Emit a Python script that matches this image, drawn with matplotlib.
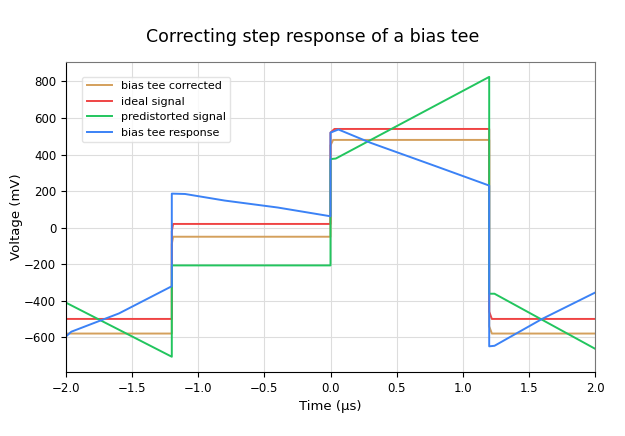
import numpy as np
import matplotlib.pyplot as plt

# breakpoints (time in us, voltage in mV)
corr_t = [-2.0, -1.2, -1.2, -1.19, 0.0, 0.0, 0.02, 1.2, 1.2, 1.22, 2.0]
corr_v = [-580, -580, -90, -50, -50, 450, 480, 480, -540, -580, -580]

ideal_t = [-2.0, -1.2, -1.2, -1.19, 0.0, 0.0, 0.03, 1.2, 1.2, 1.22, 2.0]
ideal_v = [-500, -500, -20, 20, 20, 520, 540, 540, -460, -500, -500]

pre_t = [-2.0, -1.2, -1.2, 0.0, 0.0, 0.04, 1.2, 1.2, 1.24, 2.0]
pre_v = [-411, -707, -207, -207, 375, 378, 825, -362, -362, -663]

resp_t = [-2.0, -1.96, -1.6, -1.2, -1.2, -1.1, -0.8, -0.4, 0.0, 0.0, 0.06,
          0.3, 0.8, 1.2, 1.2, 1.24, 1.6, 2.0]
resp_v = [-596, -570, -470, -321, 186, 184, 148, 110, 62, 520, 537,
          465, 335, 230, -650, -647, -500, -356]

fig = plt.figure(figsize=(6.25, 4.36), dpi=100)
ax = fig.add_axes([0.1056, 0.147, 0.8464, 0.711])

ax.plot(corr_t, corr_v, color='#d4a05c', lw=1.4, label='bias tee corrected')
ax.plot(ideal_t, ideal_v, color='#ef4444', lw=1.4, label='ideal signal')
ax.plot(pre_t, pre_v, color='#22c55e', lw=1.4, label='predistorted signal')
ax.plot(resp_t, resp_v, color='#3b82f6', lw=1.4, label='bias tee response')

ax.set_xlim(-2, 2)
ax.set_ylim(-790, 907)
ax.set_xticks(np.arange(-2, 2.01, 0.5))
ax.set_yticks(np.arange(-600, 801, 200))
ax.grid(color='#dddddd', lw=0.8)
ax.set_axisbelow(True)
for s in ['top', 'right']:
    ax.spines[s].set_color('#777777')
ax.tick_params(labelsize=8.5)

ax.set_xlabel('Time (µs)', fontsize=9.5)
ax.set_ylabel('Voltage (mV)', fontsize=9.5, labelpad=1)
fig.suptitle('Correcting step response of a bias tee', fontsize=12.5, y=0.935)

ax.legend(loc='upper left', fontsize=8, bbox_to_anchor=(0.02, 0.97),
          framealpha=0.8, edgecolor='#dddddd', handlelength=2.3)

plt.savefig('out.png')
